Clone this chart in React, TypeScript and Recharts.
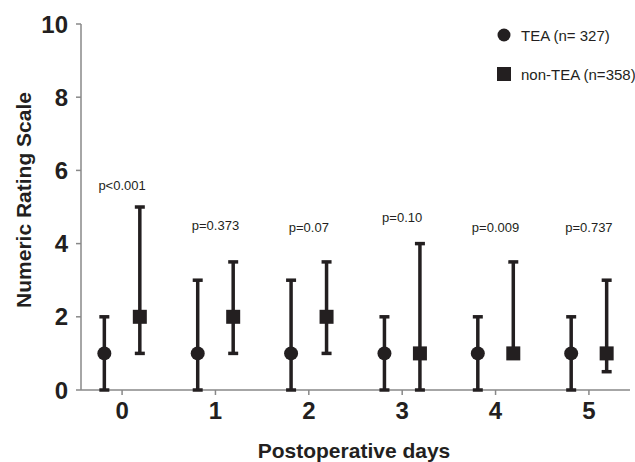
import React from 'react';
import { ComposedChart, Scatter, XAxis, YAxis, ErrorBar, Label, ReferenceLine } from 'recharts';

const days = [0, 1, 2, 3, 4, 5];
const teaMedian = [1, 1, 1, 1, 1, 1];
const teaLow = [0, 0, 0, 0, 0, 0];
const teaHigh = [2, 3, 3, 2, 2, 2];
const nonTeaMedian = [2, 2, 2, 1, 1, 1];
const nonTeaLow = [1, 1, 1, 0, 1, 0.5];
const nonTeaHigh = [5, 3.5, 3.5, 4, 3.5, 3];
const pLabels = ['p<0.001', 'p=0.373', 'p=0.07', 'p=0.10', 'p=0.009', 'p=0.737'];
const pPos = [5.6, 4.5, 4.43, 4.7, 4.45, 4.45];
const yTicks = [0, 2, 4, 6, 8, 10];
const OFFSET = 0.19;
const INK = '#231f20';
const FONT = '"Liberation Sans", Arial, sans-serif';

const teaData = days.map((d, i) => ({
  x: d - OFFSET,
  y: teaMedian[i],
  err: [teaMedian[i] - teaLow[i], teaHigh[i] - teaMedian[i]],
}));
const nonTeaData = days.map((d, i) => ({
  x: d + OFFSET,
  y: nonTeaMedian[i],
  err: [nonTeaMedian[i] - nonTeaLow[i], nonTeaHigh[i] - nonTeaMedian[i]],
}));
const pData = days.map((d, i) => ({ x: d, y: pPos[i], label: pLabels[i] }));

const CircleShape = (props: any) => <circle cx={props.cx} cy={props.cy} r={7} fill={INK} />;
const SquareShape = (props: any) => (
  <rect x={props.cx - 7} y={props.cy - 7} width={14} height={14} fill={INK} />
);
const TextShape = (props: any) => (
  <text
    x={props.cx}
    y={props.cy}
    textAnchor="middle"
    dominantBaseline="central"
    fontFamily={FONT}
    fontSize={13}
    fill={INK}
  >
    {props.payload.label}
  </text>
);

const LegendBox = () => (
  <div
    style={{
      position: 'absolute',
      left: 496,
      top: 25,
      fontFamily: FONT,
      fontSize: 15,
      color: INK,
      whiteSpace: 'nowrap',
    }}
  >
    <div style={{ display: 'flex', alignItems: 'center', height: 20 }}>
      <svg width={16} height={16} style={{ marginRight: 9 }}>
        <circle cx={8} cy={8} r={6.5} fill={INK} />
      </svg>
      <span>TEA (n= 327)</span>
    </div>
    <div style={{ display: 'flex', alignItems: 'center', height: 20, marginTop: 19 }}>
      <svg width={16} height={16} style={{ marginRight: 9 }}>
        <rect x={1} y={1} width={14} height={14} fill={INK} />
      </svg>
      <span>non-TEA (n=358)</span>
    </div>
  </div>
);

export default function App() {
  return (
    <div style={{ position: 'absolute', left: 0, top: 0, width: 635, height: 462, background: '#fff' }}>
      <ComposedChart width={635} height={462} margin={{ top: 24, right: 5, bottom: 0, left: 0 }}>
        <XAxis
          type="number"
          dataKey="x"
          domain={[-0.44, 5.44]}
          ticks={days}
          allowDataOverflow
          axisLine={false}
          tickLine={{ stroke: '#888', strokeWidth: 1.5 }}
          tickSize={5}
          tickMargin={7}
          height={72}
          tick={{ fontFamily: FONT, fontSize: 24, fontWeight: 'bold', fill: INK }}
        >
          <Label
            content={() => (
              <text x={354} y={458} textAnchor="middle" fontFamily={FONT} fontSize={21} fontWeight="bold" fill={INK}>
                Postoperative days
              </text>
            )}
          />
        </XAxis>
        <YAxis
          type="number"
          dataKey="y"
          domain={[0, 10]}
          ticks={yTicks}
          width={81}
          axisLine={{ stroke: '#888', strokeWidth: 1.5 }}
          tickLine={{ stroke: '#888', strokeWidth: 1.5 }}
          tickSize={5}
          tickMargin={8}
          tick={{ fontFamily: FONT, fontSize: 24, fontWeight: 'bold', fill: INK }}
        >
          <Label
            content={() => (
              <text
                x={23}
                y={200}
                transform="rotate(-90 23 200)"
                textAnchor="middle"
                dominantBaseline="central"
                fontFamily={FONT}
                fontSize={21}
                fontWeight="bold"
                fill={INK}
              >
                Numeric Rating Scale
              </text>
            )}
          />
        </YAxis>
        <ReferenceLine y={0} stroke="#888" strokeWidth={1.5} />
        <Scatter name="TEA (n= 327)" data={teaData} shape={CircleShape} isAnimationActive={false}>
          <ErrorBar dataKey="err" direction="y" width={5} stroke={INK} strokeWidth={3.5} />
        </Scatter>
        <Scatter name="non-TEA (n=358)" data={nonTeaData} shape={SquareShape} isAnimationActive={false}>
          <ErrorBar dataKey="err" direction="y" width={5} stroke={INK} strokeWidth={3.5} />
        </Scatter>
        <Scatter name="p" data={pData} shape={TextShape} isAnimationActive={false} legendType="none" />
      </ComposedChart>
      <LegendBox />
    </div>
  );
}
